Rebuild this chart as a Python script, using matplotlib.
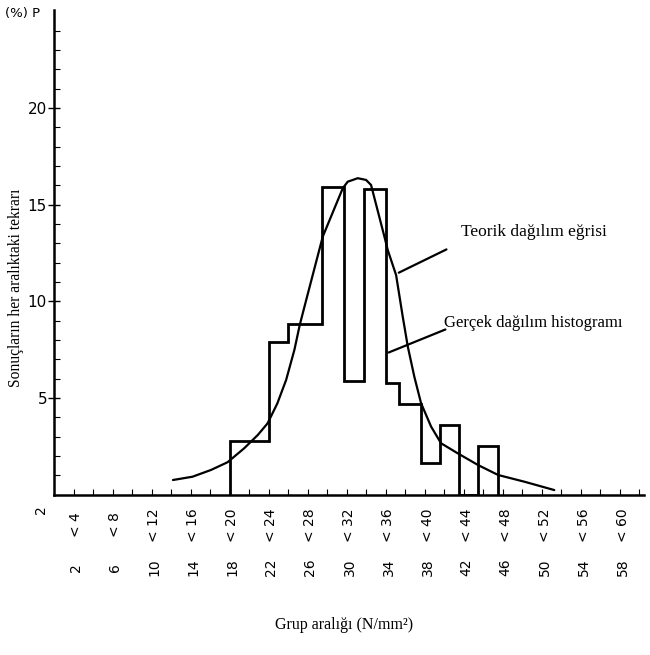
import matplotlib
matplotlib.use("Agg")
import matplotlib.pyplot as plt
import numpy as np

# histogram (gerçek dağılım) - bin edges and heights
hist_edges = [18, 22, 24, 27.5, 29.7, 31.8, 34, 35.4, 37.6, 39.6, 41.5, 43.5, 45.5]
hist_heights = [2.78, 7.92, 8.83, 15.9, 5.86, 15.8, 5.76, 4.69, 1.66, 3.6, 0.0, 2.54]

# theoretical curve (teorik dağılım eğrisi)
curve_x = [12.2, 14.2, 16.1, 17.8, 19.5, 20.9, 21.9, 22.9, 23.8, 24.65, 25.2, 25.85,
           27.56, 29.61, 30.12, 31.15, 32.0, 32.51, 33.88, 34.22, 35.08, 35.76,
           36.28, 36.95, 37.64, 38.67, 39.69, 41.4, 43.5, 45.54, 48.25, 51.3]
curve_y = [0.76, 0.93, 1.28, 1.68, 2.4, 3.09, 3.69, 4.72, 5.93, 7.49, 8.78, 10.05,
           13.35, 15.85, 16.19, 16.37, 16.28, 16.02, 13.35, 12.66, 11.36, 9.21,
           7.66, 6.1, 4.73, 3.52, 2.66, 2.14, 1.53, 1.02, 0.67, 0.24]

group_lo = [2, 6, 10, 14, 18, 22, 26, 30, 34, 38, 42, 46, 50, 54, 58]
group_hi = [4, 8, 12, 16, 20, 24, 28, 32, 36, 40, 44, 48, 52, 56, 60]
y_ticks = [5, 10, 15, 20]

SERIF = "Liberation Serif"
SANS = "DejaVu Sans"

fig = plt.figure(figsize=(6.5, 6.55), dpi=100)
ax = fig.add_axes([54 / 650, 1 - 494.7 / 655, 590 / 650, 484.7 / 655])

ax.stairs(hist_heights, hist_edges, baseline=0, fill=False,
          color="black", linewidth=2.0)
ax.plot(curve_x, curve_y, color="black", linewidth=1.6,
        solid_joinstyle="round", solid_capstyle="round")

ax.set_xlim(0, 60.5)
ax.set_ylim(0, 25.07)
for s in ("top", "right"):
    ax.spines[s].set_visible(False)
for s in ("left", "bottom"):
    ax.spines[s].set_linewidth(1.8)

ax.set_yticks(y_ticks)
ax.set_yticklabels([str(v) for v in y_ticks], fontsize=11, family=SANS)
ax.set_yticks(np.arange(1, 25, 1), minor=True)
ax.tick_params(axis="y", which="major", direction="inout", length=8, width=1, pad=1)
ax.tick_params(axis="y", which="minor", direction="in", length=4, width=0.8)

ax.set_xticks(np.arange(2, 61, 2), minor=True)
ax.set_xticks([])
ax.tick_params(axis="x", which="minor", direction="in", length=4, width=0.8)

# two-row group labels under the axis
trans = ax.get_xaxis_transform()
for lo, hi in zip(group_lo, group_hi):
    ax.text(lo + 0.3, -0.062, f"< {hi}", transform=trans, rotation=90,
            ha="center", va="center", fontsize=10, family=SANS)
    ax.text(lo + 0.3, -0.15, str(lo), transform=trans, rotation=90,
            ha="center", va="center", fontsize=10, family=SANS)
ax.text(-1.3, -0.03, "2", transform=trans, rotation=90,
        ha="center", va="center", fontsize=10, family=SANS)

fig.text(5 / 650, 1 - 14 / 655, "(%) P", fontsize=9.5, family=SANS,
         ha="left", va="center")
fig.text(16 / 650, 1 - 288 / 655, "Sonuçların her aralıktaki tekrarı",
         rotation=90, fontsize=11.2, family=SERIF, ha="center", va="center")
fig.text(344 / 650, 1 - 625 / 655, "Grup aralığı (N/mm²)",
         fontsize=11.5, family=SERIF, ha="center", va="center")

ax.text(41.7, 13.6, "Teorik dağılım eğrisi", fontsize=12.5, family=SERIF,
        ha="left", va="center")
ax.annotate("", xy=(35.1, 11.42), xytext=(40.5, 12.75),
            arrowprops=dict(arrowstyle="-", color="black", lw=1.6))
ax.text(40.0, 8.9, "Gerçek dağılım histogramı", fontsize=12, family=SERIF,
        ha="left", va="center")
ax.annotate("", xy=(34.05, 7.3), xytext=(40.4, 8.6),
            arrowprops=dict(arrowstyle="-", color="black", lw=1.6))

fig.savefig("out.png", dpi=100, facecolor="white")
